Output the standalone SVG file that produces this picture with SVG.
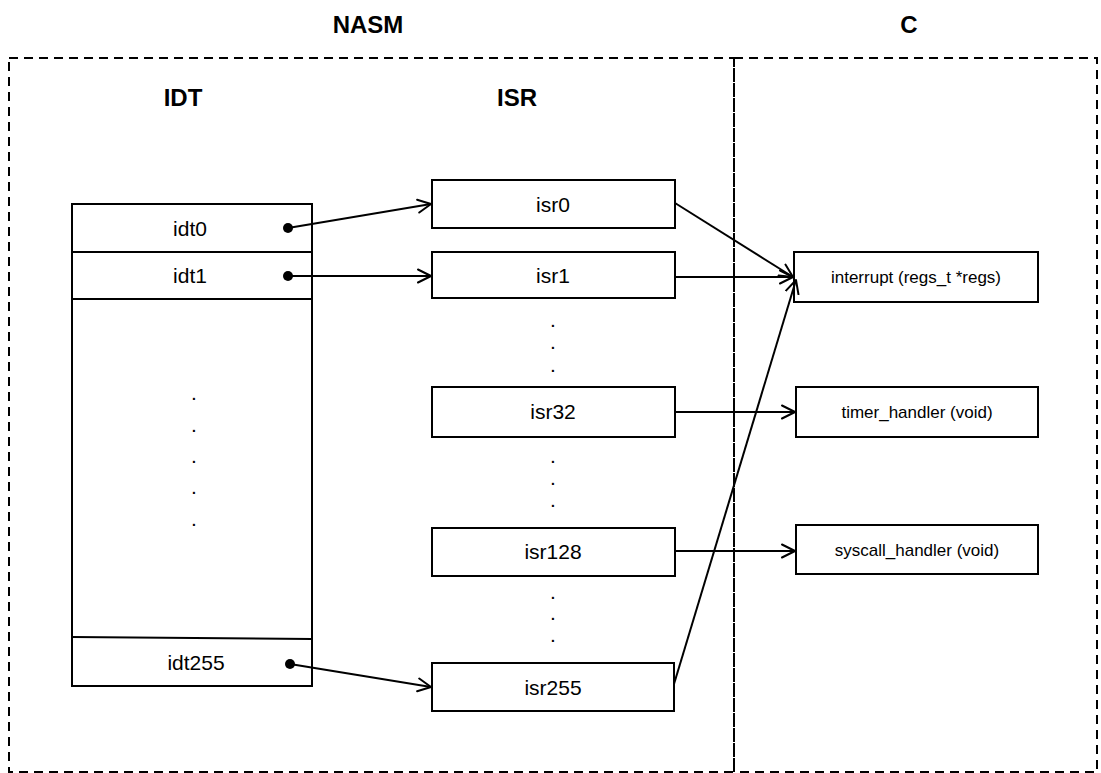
<svg xmlns="http://www.w3.org/2000/svg" width="1101" height="773" viewBox="0 0 1101 773">
  <style>
    .zone { fill: none; stroke: #000; stroke-width: 2; stroke-dasharray: 9 6; }
    .box { fill: #fff; stroke: #000; stroke-width: 2; }
    .sep { fill: none; stroke: #000; stroke-width: 2; }
    .head { font-family: "Liberation Sans", Arial, sans-serif; font-weight: bold; font-size: 24px; fill: #000; text-anchor: middle; }
    .lbl { font-family: "Liberation Sans", Arial, sans-serif; font-size: 21px; fill: #000; text-anchor: middle; }
    .fn { font-family: "Liberation Sans", Arial, sans-serif; font-size: 17px; fill: #000; text-anchor: middle; }
    .wire { fill: none; stroke: #000; stroke-width: 2; marker-end: url(#open); }
    .tail { fill: #000; }
  </style>
  <defs>
    <marker id="open" viewBox="0 0 16 16" refX="14" refY="8" markerWidth="16" markerHeight="16" markerUnits="userSpaceOnUse" orient="auto">
      <path d="M1,1.5 L14,8 L1,14.5" fill="none" stroke="#000" stroke-width="2" stroke-linejoin="round" stroke-linecap="round"/>
    </marker>
  </defs>

  <rect width="1101" height="773" fill="#fff"/>

  <!-- language zones -->
  <g id="zone-nasm">
    <rect class="zone" x="9" y="58" width="725" height="714"/>
    <text class="head" x="368" y="33">NASM</text>
  </g>
  <g id="zone-c">
    <rect class="zone" x="734" y="58" width="363" height="714"/>
    <text class="head" x="909" y="33">C</text>
  </g>

  <!-- interrupt descriptor table -->
  <g id="idt">
    <text class="head" x="183" y="106">IDT</text>
    <rect class="box" x="72" y="204" width="240" height="482"/>
    <line class="sep" x1="72" y1="252" x2="312" y2="252"/>
    <line class="sep" x1="72" y1="299" x2="312" y2="299"/>
    <line class="sep" x1="72" y1="637" x2="312" y2="639"/>
    <text class="lbl" x="190" y="236">idt0</text>
    <text class="lbl" x="190" y="283">idt1</text>
    <text class="lbl" x="194" y="400">.</text>
    <text class="lbl" x="194" y="432">.</text>
    <text class="lbl" x="194" y="463">.</text>
    <text class="lbl" x="194" y="494">.</text>
    <text class="lbl" x="194" y="526">.</text>
    <text class="lbl" x="196" y="670">idt255</text>
  </g>

  <!-- interrupt service routines -->
  <text class="head" x="517" y="106">ISR</text>
  <g id="isr0">
    <rect class="box" x="432" y="180" width="243" height="48"/>
    <text class="lbl" x="553" y="212">isr0</text>
  </g>
  <g id="isr1">
    <rect class="box" x="432" y="252" width="243" height="46"/>
    <text class="lbl" x="553" y="283">isr1</text>
  </g>
  <g id="isr-gap-1">
    <text class="lbl" x="553" y="327">.</text>
    <text class="lbl" x="553" y="349">.</text>
    <text class="lbl" x="553" y="372">.</text>
  </g>
  <g id="isr32">
    <rect class="box" x="432" y="387" width="243" height="50"/>
    <text class="lbl" x="553" y="419">isr32</text>
  </g>
  <g id="isr-gap-2">
    <text class="lbl" x="553" y="463">.</text>
    <text class="lbl" x="553" y="485">.</text>
    <text class="lbl" x="553" y="507">.</text>
  </g>
  <g id="isr128">
    <rect class="box" x="432" y="528" width="243" height="48"/>
    <text class="lbl" x="553" y="559">isr128</text>
  </g>
  <g id="isr-gap-3">
    <text class="lbl" x="553" y="599">.</text>
    <text class="lbl" x="553" y="620">.</text>
    <text class="lbl" x="553" y="642">.</text>
  </g>
  <g id="isr255">
    <rect class="box" x="432" y="663" width="242" height="48"/>
    <text class="lbl" x="553" y="695">isr255</text>
  </g>

  <!-- C handlers -->
  <g id="interrupt">
    <rect class="box" x="794" y="252" width="244" height="50"/>
    <text class="fn" x="916" y="283">interrupt (regs_t *regs)</text>
  </g>
  <g id="timer-handler">
    <rect class="box" x="796" y="387" width="242" height="50"/>
    <text class="fn" x="917" y="418">timer_handler (void)</text>
  </g>
  <g id="syscall-handler">
    <rect class="box" x="796" y="525" width="242" height="49"/>
    <text class="fn" x="917" y="556">syscall_handler (void)</text>
  </g>

  <!-- connectors -->
  <g id="connectors">
    <line class="wire" x1="288" y1="228" x2="431" y2="204"/>
    <line class="wire" x1="288" y1="276" x2="431" y2="276"/>
    <line class="wire" x1="290" y1="664" x2="431" y2="687"/>
    <circle class="tail" cx="288" cy="228" r="5"/>
    <circle class="tail" cx="288" cy="276" r="5"/>
    <circle class="tail" cx="290" cy="664" r="5"/>
    <line class="wire" x1="675" y1="203" x2="793" y2="277"/>
    <line class="wire" x1="675" y1="277" x2="793" y2="277"/>
    <line class="wire" x1="674" y1="684" x2="796" y2="280"/>
    <line class="wire" x1="675" y1="412" x2="795" y2="412"/>
    <line class="wire" x1="675" y1="551" x2="795" y2="551"/>
  </g>
</svg>
